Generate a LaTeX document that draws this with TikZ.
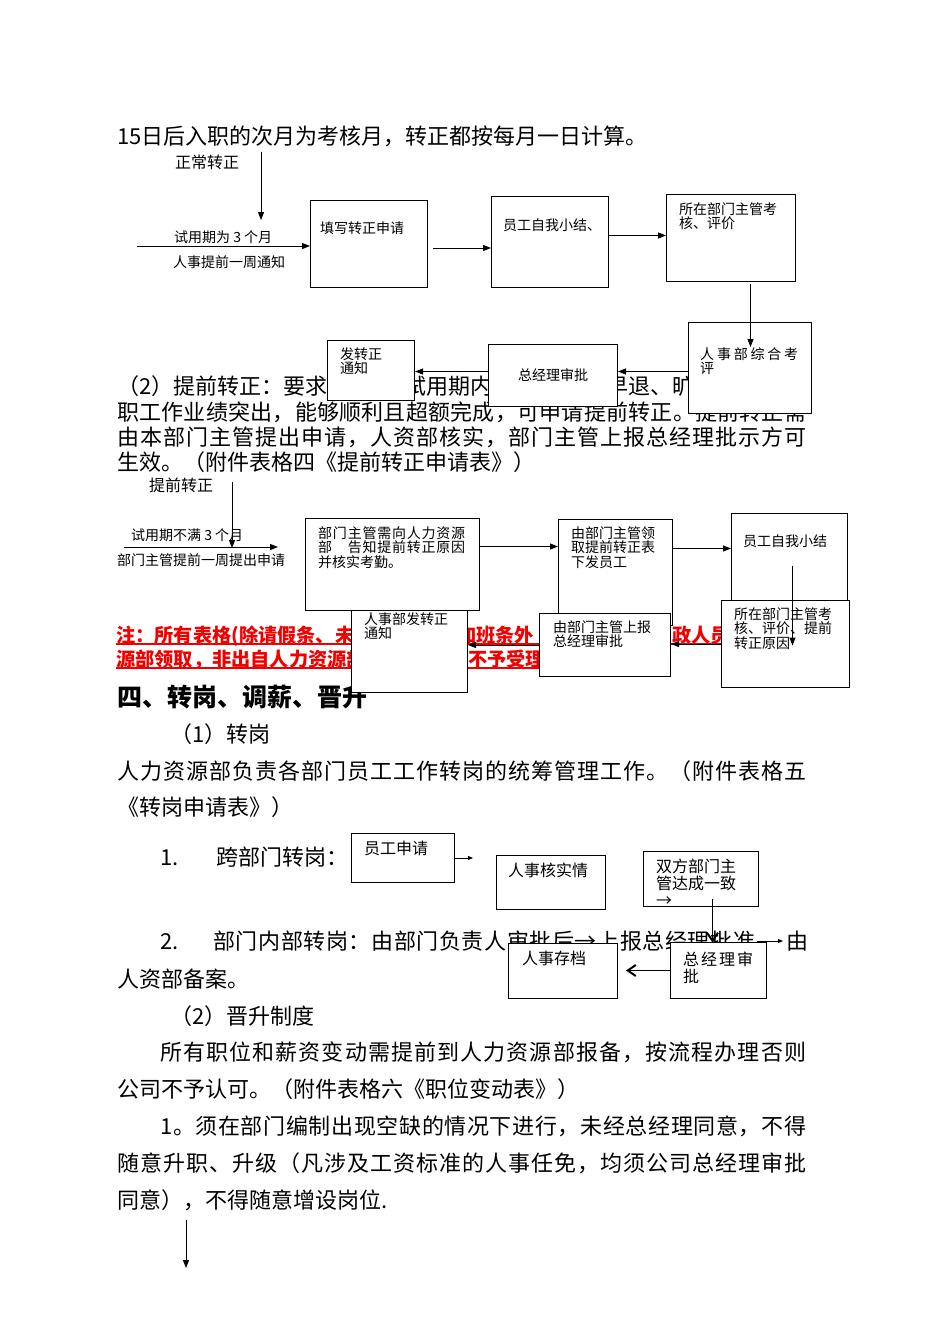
\documentclass[tikz,border=0pt]{standalone}
\usepackage{fontspec}
\setmainfont{Noto Sans CJK SC}
\usetikzlibrary{arrows.meta}
\definecolor{NoteRed}{HTML}{F20000}
\newcommand{\gp}{\hbox to 1em{}}
\def\jsp#1{\ifx\relax#1\else#1\hfil\expandafter\jsp\fi}
\newcommand{\jus}[2]{\hbox to #1pt{\jsp#2\relax\unskip}}
\tikzset{
  body/.style={inner sep=0pt, anchor=base west, font=\fontsize{22}{26}\selectfont},
  head/.style={inner sep=0pt, anchor=base west, font={\fontsize{25}{28}\selectfont\bfseries}},
  note/.style={inner sep=0pt, anchor=base west, text=NoteRed, font={\fontsize{19.2}{22}\selectfont\bfseries}},
  small/.style={inner sep=0pt, anchor=base west, align=left, font=\fontsize{14}{14.5}\selectfont},
  mid/.style={inner sep=0pt, anchor=base west, align=left, font=\fontsize{16}{17}\selectfont},
  box/.style={draw, line width=1pt, fill=white, inner sep=0pt, anchor=north west},
  arr/.style={-{Triangle[length=8pt,width=6pt]}, line width=1pt},
  sarr/.style={-{Triangle[length=5pt,width=4pt]}, line width=0.8pt},
  varr/.style={-{Straight Barb[length=8pt,width=11pt,line width=2pt]}, line width=1pt},
  redline/.style={draw=NoteRed, line width=1.3pt}
}
\begin{document}
\begin{tikzpicture}[x=1pt,y=-1pt]
  \useasboundingbox (0,0) rectangle (950,1344);

  \node[body] (l01) at (117,144.4) {15日后入职的次月为考核月，转正都按每月一日计算。};
  \node[mid] (tnorm) at (175,168) {正常转正};
  \node[small] (tthree) at (174,242.3) {试用期为 3 个月};
  \node[small] (tweek) at (173,267.3) {人事提前一周通知};

  \node[body] (l02a) at (117,394.4) {（2）提前转正：要求};
  \node[body] (l02b) at (404,394.4) {试用期内};
  \node[body] (l02c) at (606,394.4) {早退、旷};
  \node[body] (l03) at (117,420) {\jus{689}{职工作业绩突出，能够顺利且超额完成，可申请提前转正。提前转正需}};
  \node[body] (l04) at (117,445.4) {\jus{689}{由本部门主管提出申请，人资部核实，部门主管上报总经理批示方可}};
  \node[body] (l05) at (117,470.4) {生效。（附件表格四《提前转正申请表》）};

  \node[mid] (tearly) at (149,491) {提前转正};
  \node[small] (tless) at (131,540.3) {试用期不满 3 个月};
  \node[small] (tdept) at (117,565.3) {部门主管提前一周提出申请};

  \draw[redline] (116,644) -- (721,644);
  \draw[redline] (116,668) -- (539,668);
  \node[note] (n1a) at (116,642.3) {注：所有表格(除请假条、未};
  \node[note] (n1b) at (457,642.3) {加班条外};
  \node[note] (n1c) at (672,642.3) {政人员};
  \node[note] (n2a) at (116,666.3) {源部领取，非出自人力资源部};
  \node[note] (n2b) at (468,666.3) {不予受理};

  \node[head] (h4) at (117,706.5) {四、转岗、调薪、晋升};
  \node[body] (l06) at (170,742.4) {（1）转岗};
  \node[body] (l07) at (117,779.4) {\jus{689}{人力资源部负责各部门员工工作转岗的统筹管理工作。（附件表格五}};
  \node[body] (l08) at (117,815.4) {《转岗申请表》）};
  \node[body] (l09a) at (160,865.4) {1.};
  \node[body] (l09b) at (216,865.4) {跨部门转岗：};
  \node[body] (l10a) at (160,949.4) {2.};
  \node[body] (l10b) at (213,949.4) {\jus{542}{部门内部转岗：由部门负责人审批后→上报总经理批准}};
  \node[body] (l10c) at (786,949.4) {由};
  \node[body] (l11) at (117,987.4) {人资部备案。};
  \node[body] (l12) at (170,1024.4) {（2）晋升制度};
  \node[body] (l13) at (160,1060.4) {\jus{646}{所有职位和薪资变动需提前到人力资源部报备，按流程办理否则}};
  \node[body] (l14) at (117,1097.4) {公司不予认可。（附件表格六《职位变动表》）};
  \node[body] (l15) at (160,1134.4) {\jus{646}{1。须在部门编制出现空缺的情况下进行，未经总经理同意，不得}};
  \node[body] (l16) at (117,1171.4) {\jus{689}{随意升职、升级（凡涉及工资标准的人事任免，均须公司总经理审批}};
  \node[body] (l17) at (117,1208.4) {同意），不得随意增设岗位.};

  \node[box, minimum width=117pt, minimum height=87pt] (fillapp) at (310,200) {};
  \node[box, minimum width=117pt, minimum height=91pt] (selfsum) at (491,196) {};
  \node[box, minimum width=129pt, minimum height=87pt] (deptchk) at (666,194) {};
  \node[box, minimum width=123pt, minimum height=91pt] (hrcheck) at (688,322) {};
  \node[box, minimum width=129pt, minimum height=62pt] (gmok) at (488,344) {};
  \node[box, minimum width=87pt, minimum height=60pt] (notice) at (327,340) {};

  \node[box, minimum width=116pt, minimum height=82pt] (noticeb) at (351,610) {};
  \node[box, minimum width=174pt, minimum height=92pt] (reqhr) at (305,518) {};
  \node[box, minimum width=114pt, minimum height=106pt] (getform) at (558,519) {};
  \node[box, minimum width=116pt, minimum height=91pt] (selfsumb) at (731,513) {};
  \node[box, minimum width=131pt, minimum height=63pt] (gmreport) at (539,613) {};
  \node[box, minimum width=128pt, minimum height=87pt] (deptchkb) at (721,600) {};

  \node[box, minimum width=103pt, minimum height=49pt] (apply) at (351,833) {};
  \node[box, minimum width=109pt, minimum height=54pt] (hrverify) at (496,855) {};
  \node[box, minimum width=115pt, minimum height=55pt] (agree) at (643,851) {};
  \node[box, minimum width=109pt, minimum height=55pt] (archive) at (508,943) {};
  \node[box, minimum width=96pt, minimum height=56pt] (gmokc) at (670,942) {};

  \node[small] (tfill) at (320,233.3) {填写转正申请};
  \node[small] (tself) at (503,230.3) {员工自我小结、};
  \node[small] (tchk) at (679,228.8) {所在部门主管考\\核、评价};
  \node[small] (thr) at (700,373.8) {\jus{98}{人事部综合考}\\评};
  \node[small, anchor=center] (tgm) at (gmok) {总经理审批};
  \node[small] (tnote) at (340,373.8) {发转正\\通知};

  \node[small] (treq) at (318,567.3) {\jus{147}{部门主管需向人力资源}\\\jus{147}{部\gp 告知提前转正原因}\\并核实考勤。};
  \node[small] (tget) at (571,567.3) {由部门主管领\\取提前转正表\\下发员工};
  \node[small] (tselfb) at (743,546.3) {员工自我小结};
  \node[small] (tchkb) at (734,648.3) {所在部门主管考\\核、评价、提前\\转正原因};
  \node[small] (trep) at (553,646.8) {由部门主管上报\\总经理审批};
  \node[small] (tnoteb) at (364,638.8) {人事部发转正\\通知};

  \node[mid] (tapply) at (364,854) {员工申请};
  \node[mid] (tver) at (508,876) {人事核实情};
  \node[mid] (tagree) at (656,906) {双方部门主\\管达成一致\\→};
  \node[mid] (tarch) at (522,964) {人事存档};
  \node[mid] (tgmc) at (683,982.5) {\jus{70}{总经理审}\\批};

  \coordinate (na) at (261,152);
  \coordinate (nb) at (261,220);
  \draw[arr] (na) -- (nb);
  \coordinate (nc) at (137,246);
  \draw[arr] (nc) -- (nc -| fillapp.west);
  \coordinate (nd) at (433,248);
  \draw[arr] (nd) -- (nd -| selfsum.west);
  \draw[arr] ([yshift=6.5pt]selfsum.east) -- ([yshift=6.5pt]selfsum.east -| deptchk.west);
  \draw[arr] ([xshift=19.5pt,yshift=-2pt]deptchk.south) -- ++(0,63);
  \draw[arr] ([yshift=4pt]gmok.east -| hrcheck.west) -- ([yshift=4pt]gmok.east);
  \draw[arr] ([yshift=4pt]gmok.west) -- ([yshift=4pt]gmok.west -| notice.east);

  \coordinate (ne) at (232,482);
  \coordinate (nf) at (232,548);
  \draw[arr] (ne) -- (nf);
  \coordinate (ng) at (124,547);
  \coordinate (nh) at (278,547);
  \draw[arr] (ng) -- (nh);
  \draw[arr] ([yshift=18pt]reqhr.east) -- ([yshift=18pt]reqhr.east -| getform.west);
  \draw[arr] ([yshift=24pt]getform.east) -- ([yshift=24pt]getform.east -| selfsumb.west);
  \draw[arr] ([xshift=3pt,yshift=-6.5pt]selfsumb.center) -- ++(0,80);
  \draw[arr] (deptchkb.west) -- (deptchkb.west -| gmreport.east);
  \draw[arr] (gmreport.west) -- (gmreport.west -| noticeb.east);

  \draw[sarr] (apply.east) -- ++(18,0);
  \draw[varr] ([xshift=11.5pt,yshift=-19.5pt]agree.center) -- ++(0,44);
  \draw[varr] (gmokc.west) -- ([xshift=8pt]gmokc.west -| archive.east);
  \coordinate (ni) at (757,941);
  \coordinate (nj) at (783,941);
  \draw[sarr] (ni) -- (nj);
  \coordinate (nk) at (186,1220);
  \coordinate (nl) at (186,1268);
  \draw[arr] (nk) -- (nl);
\end{tikzpicture}
\end{document}
